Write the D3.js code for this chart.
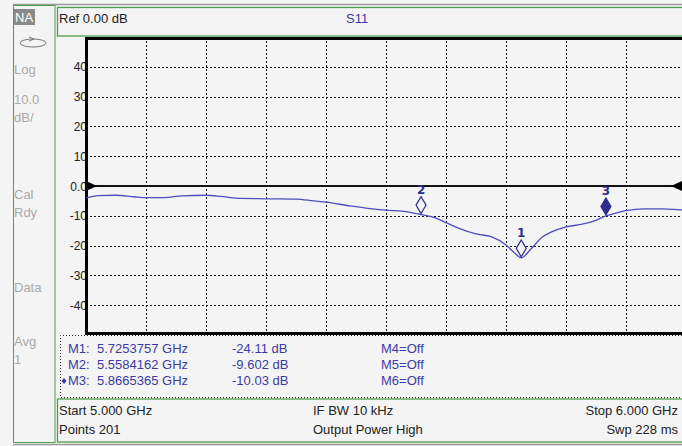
<!doctype html>
<html>
<head>
<script src="https://d3js.org/d3.v7.min.js"></script>
<style>
  body { margin: 0; background: #f4f4f4; }
  svg { display: block; font-family: "Liberation Sans", Arial, sans-serif; }
</style>
</head>
<body>
<svg id="chart" width="682" height="446"></svg>
<script>
// trace S11 (GHz, dB)
var freqGHz = [5.000, 5.020, 5.050, 5.080, 5.100, 5.130, 5.160, 5.200, 5.225, 5.250,
               5.300, 5.350, 5.380, 5.400, 5.440, 5.470, 5.500, 5.530, 5.5584162, 5.580,
               5.600, 5.625, 5.650, 5.675, 5.700, 5.715, 5.7253757, 5.740, 5.760, 5.775,
               5.800, 5.825, 5.850, 5.8665365, 5.880, 5.900, 5.930, 5.960, 5.990, 6.000];
var s11dB = [-4.0, -3.2, -3.1, -3.6, -3.9, -3.9, -3.3, -3.1, -3.5, -4.1,
             -4.3, -4.4, -5.0, -5.4, -6.7, -7.5, -8.1, -8.5, -9.602, -10.5,
             -12.3, -14.5, -16.1, -17.0, -19.8, -22.6, -24.11, -21.5, -17.2, -15.5,
             -13.7, -12.9, -11.5, -10.03, -9.3, -8.3, -7.7, -7.7, -8.0, -8.1];

var markerIds = ["1", "2", "3"];
var markerFreqs = [5.7253757, 5.5584162, 5.8665365];
var markerVals = [-24.11, -9.602, -10.03];
var markerActive = [false, false, true];
var markerFreqText = ["5.7253757 GHz", "5.5584162 GHz", "5.8665365 GHz"];
var markerValText = ["-24.11 dB", "-9.602 dB", "-10.03 dB"];
var markerOff = ["M4=Off", "M5=Off", "M6=Off"];

var yTicks = [40, 30, 20, 10, 0, -10, -20, -30, -40];
var yTickLabels = ["40", "30", "20", "10", "0.0", "-10", "-20", "-30", "-40"];

var sidePanel = ["Log", "10.0", "dB/", "Cal", "Rdy", "Data", "Avg", "1"];
var sideY = [74, 104, 122, 199, 217, 292, 346, 364];

var svg = d3.select("#chart");
var green = "#4d9e4d", blue = "#3b3ba6", trace = "#4d4dbf", faint = "#a9a9a9";

var x = d3.scaleLinear().domain([5.0, 6.0]).range([86, 686]);
var y = d3.scaleLinear().domain([-50, 50]).range([335, 37]);

// frame of the instrument screen
svg.append("line").attr("x1", 13).attr("x2", 682).attr("y1", 4.5).attr("y2", 4.5)
   .attr("stroke", "#9a9a9a").attr("stroke-width", 1.5);
svg.append("line").attr("x1", 13).attr("x2", 682).attr("y1", 444.5).attr("y2", 444.5)
   .attr("stroke", "#9a9a9a").attr("stroke-width", 1.5);
svg.append("rect").attr("x", 13.5).attr("y", 5.5).attr("width", 41.5).attr("height", 437)
   .attr("fill", "none").attr("stroke", green);
svg.append("rect").attr("x", 57.5).attr("y", 7.5).attr("width", 640).attr("height", 28.5)
   .attr("fill", "none").attr("stroke", green).attr("stroke-width", 1.3);
svg.append("rect").attr("x", 57.5).attr("y", 399).attr("width", 640).attr("height", 43)
   .attr("fill", "none").attr("stroke", green).attr("stroke-width", 1.3);

// side panel
svg.append("rect").attr("x", 14).attr("y", 9).attr("width", 21).attr("height", 16).attr("fill", "#8a8a8a");
svg.append("text").attr("x", 15).attr("y", 22).attr("fill", "#fff").attr("font-size", 13).text("NA");
svg.append("ellipse").attr("cx", 33).attr("cy", 43).attr("rx", 13).attr("ry", 4)
   .attr("fill", "none").attr("stroke", "#777");
svg.append("path").attr("d", "M29,37 L34,39 L29,41").attr("fill", "none").attr("stroke", "#777");
svg.selectAll("text.side").data(sidePanel).enter().append("text")
   .attr("class", "side").attr("x", 14).attr("y", (d, i) => sideY[i])
   .attr("fill", faint).attr("font-size", 13).text(d => d);

// header
svg.append("text").attr("x", 59).attr("y", 23).attr("font-size", 13).attr("fill", "#222").text("Ref 0.00 dB");
svg.append("text").attr("x", 346).attr("y", 23).attr("font-size", 13).attr("fill", blue).text("S11");

// grid
var grid = svg.append("g").attr("stroke", "#111").attr("stroke-dasharray", "2,2").attr("stroke-width", 1);
grid.selectAll("line.v").data(x.ticks(10).slice(1, -1)).enter().append("line")
    .attr("x1", d => Math.round(x(d)) + 0.5).attr("x2", d => Math.round(x(d)) + 0.5)
    .attr("y1", y(50)).attr("y2", y(-50));
grid.selectAll("line.h").data(yTicks.filter(d => d !== 0)).enter().append("line")
    .attr("x1", x(5.0)).attr("x2", 682)
    .attr("y1", d => Math.round(y(d)) + 0.5).attr("y2", d => Math.round(y(d)) + 0.5);

// y tick labels
svg.selectAll("text.ytick").data(yTicks).enter().append("text")
   .attr("class", "ytick").attr("x", 87).attr("y", d => y(d) + 4.5)
   .attr("text-anchor", "end").attr("font-size", 12).attr("fill", "#222")
   .text((d, i) => yTickLabels[i]);

// reference line with arrows
svg.append("line").attr("x1", x(5.0)).attr("x2", 682).attr("y1", y(0)).attr("y2", y(0))
   .attr("stroke", "#111").attr("stroke-width", 2);
svg.append("path").attr("d", `M${x(5.0)},${y(0) - 5} L${x(5.0) + 11},${y(0)} L${x(5.0)},${y(0) + 5}Z`).attr("fill", "#000");
svg.append("path").attr("d", `M682,${y(0) - 5} L671,${y(0)} L682,${y(0) + 5}Z`).attr("fill", "#000");

// plot border
svg.append("line").attr("x1", 86.5).attr("x2", 86.5).attr("y1", 37).attr("y2", 335)
   .attr("stroke", "#000").attr("stroke-width", 3);
svg.append("line").attr("x1", 85).attr("x2", 682).attr("y1", 38.5).attr("y2", 38.5)
   .attr("stroke", "#000").attr("stroke-width", 3);
svg.append("line").attr("x1", 85).attr("x2", 682).attr("y1", 333.5).attr("y2", 333.5)
   .attr("stroke", "#000").attr("stroke-width", 3);

// trace
var pts = freqGHz.map((f, i) => [f, s11dB[i]]);
svg.append("path").datum(pts)
   .attr("fill", "none").attr("stroke", trace).attr("stroke-width", 1.3)
   .attr("d", d3.line().x(d => x(d[0])).y(d => y(d[1])).curve(d3.curveMonotoneX));

// markers
var mk = svg.selectAll("g.mk").data(markerIds).enter().append("g")
   .attr("transform", (d, i) => `translate(${x(markerFreqs[i])},${y(markerVals[i]) - 1})`);
mk.append("path").attr("d", "M0,0 L-5,-8.5 L0,-17 L5,-8.5Z")
  .attr("fill", (d, i) => markerActive[i] ? "#2e2e8f" : "#f4f4f4")
  .attr("stroke", "#2e2e8f").attr("stroke-width", 1.2);
mk.append("text").attr("y", -20).attr("text-anchor", "middle")
  .attr("font-size", 12).attr("font-weight", "bold").attr("fill", "#2e2e8f")
  .attr("font-family", "DejaVu Sans, sans-serif").text(d => d);

// marker table
svg.append("path").attr("d", "M682,335.5 L60.5,335.5 L60.5,397.5 L682,397.5")
   .attr("fill", "none").attr("stroke", "#222").attr("stroke-dasharray", "1,2");
var rowY = [353, 369, 385];
svg.selectAll("text.mname").data(markerIds).enter().append("text")
   .attr("x", 68).attr("y", (d, i) => rowY[i]).attr("font-size", 13).attr("fill", blue)
   .text(d => "M" + d + ":");
svg.selectAll("text.mfreq").data(markerFreqText).enter().append("text")
   .attr("x", 97).attr("y", (d, i) => rowY[i]).attr("font-size", 13).attr("fill", blue).text(d => d);
svg.selectAll("text.mval").data(markerValText).enter().append("text")
   .attr("x", 232).attr("y", (d, i) => rowY[i]).attr("font-size", 13).attr("fill", blue).text(d => d);
svg.selectAll("text.moff").data(markerOff).enter().append("text")
   .attr("x", 381).attr("y", (d, i) => rowY[i]).attr("font-size", 13).attr("fill", blue).text(d => d);
svg.append("path").attr("d", "M64,378 L66.5,381 L64,384 L61.5,381Z").attr("fill", blue);

// footer
var foot = svg.append("g").attr("font-size", 13).attr("fill", "#222");
foot.append("text").attr("x", 59).attr("y", 415).text("Start 5.000 GHz");
foot.append("text").attr("x", 59).attr("y", 434).text("Points 201");
foot.append("text").attr("x", 313).attr("y", 415).text("IF BW 10 kHz");
foot.append("text").attr("x", 313).attr("y", 434).text("Output Power High");
foot.append("text").attr("x", 678).attr("y", 415).attr("text-anchor", "end").text("Stop 6.000 GHz");
foot.append("text").attr("x", 678).attr("y", 434).attr("text-anchor", "end").text("Swp 228 ms");
</script>
</body>
</html>
